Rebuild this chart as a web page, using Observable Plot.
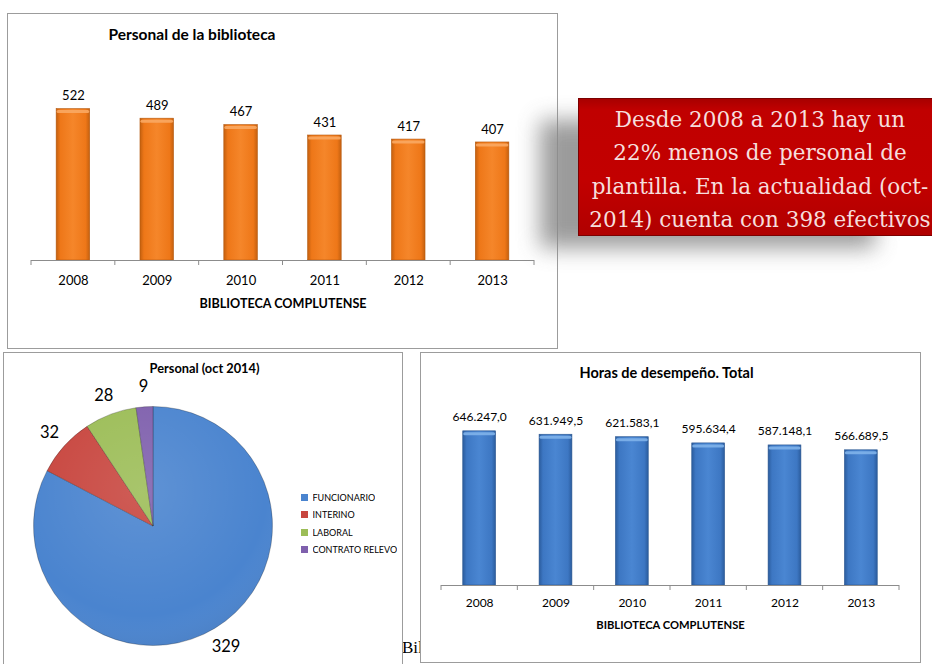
<!DOCTYPE html>
<html><head><meta charset="utf-8">
<script src="https://cdn.jsdelivr.net/npm/d3@7"></script>
<script src="https://cdn.jsdelivr.net/npm/@observablehq/plot@0.6"></script>
<style>
html,body{margin:0;padding:0;background:#fff;overflow:hidden;}
#page{position:relative;width:932px;height:664px;overflow:hidden;font-family:Lato,sans-serif;background:#fff;}
.panel{position:absolute;border:1px solid #9c9c9c;background:#fff;box-sizing:border-box;}
.holder{position:absolute;}
#shadow{position:absolute;left:540px;top:120px;width:335px;height:128px;background:#8a8a8a;filter:blur(11px);opacity:.85;}
#note{position:absolute;left:578px;top:98px;width:364px;height:138px;box-sizing:border-box;
  background:linear-gradient(#a80000,#c00000 8%,#c20000 60%,#b00000);border:1px solid #7a0000;
  color:#f6dedd;font-family:"DejaVu Serif",serif;font-size:21.5px;line-height:33.3px;text-align:center;padding-top:4px;white-space:nowrap;}
#bil{position:absolute;left:402px;top:638px;font-family:"Liberation Serif",serif;font-size:17px;color:#000;}
#legend .pl-swatch{padding-bottom:0 !important;height:17.3px;}
</style></head><body><div id="page">
  <div class="panel" style="left:7px;top:13px;width:551px;height:336px;"></div>
  <div class="holder" id="topChart" style="left:8px;top:14px;"></div>
  <div id="shadow"></div>
  <div id="note">Desde 2008 a 2013 hay un<br>22% menos de personal de<br>plantilla. En la actualidad (oct-<br>2014) cuenta con 398 efectivos</div>
  <div id="bil">Bil</div>
  <div class="panel" style="left:3px;top:352px;width:400px;height:320px;"></div>
  <div class="holder" id="pieChart" style="left:4px;top:353px;"></div>
  <div class="holder" id="legend" style="left:301px;top:489px;"></div>
  <div class="panel" style="left:420px;top:352px;width:501px;height:311px;"></div>
  <div class="holder" id="hoursChart" style="left:421px;top:353px;"></div>
</div>
<script>
// ---- data ----
const years = ["2008","2009","2010","2011","2012","2013"];
const staff = [522, 489, 467, 431, 417, 407];
const hours = [646247.0, 631949.5, 621583.1, 595634.4, 587148.1, 566689.5];
const pieCategories = ["FUNCIONARIO","INTERINO","LABORAL","CONTRATO RELEVO"];
const pieValues = [329, 32, 28, 9];
const pieColors = ["#4a84cf","#c8463f","#9cbd57","#7f60ad"];
const xAxisLabel = "BIBLIOTECA COMPLUTENSE";

const esFormat = d3.formatLocale({decimal: ",", thousands: ".", grouping: [3], currency: ["", "€"]}).format(",.1f");
const staffData = years.map((y, i) => ({year: y, value: staff[i]}));
const hoursData = years.map((y, i) => ({year: y, value: hours[i]}));
const pieData = pieCategories.map((c, i) => ({category: c, value: pieValues[i]}));

const FONT = "Lato, sans-serif";

function gradientDefs(id, stops) {
  return () => {
    const defs = d3.create("svg:defs");
    const g = defs.append("linearGradient").attr("id", id).attr("x1", 0).attr("x2", 1).attr("y1", 0).attr("y2", 0);
    stops.forEach(([o, c]) => g.append("stop").attr("offset", o).attr("stop-color", c));
    return defs.node();
  };
}

function bandBoundaryTicks(len, color) {
  return (index, scales) => {
    const x = scales.x, y = scales.y;
    const step = x.step(), bw = x.bandwidth();
    const y0 = y(0);
    const dom = x.domain();
    const xs = dom.map(d => x(d) - (step - bw) / 2);
    xs.push(x(dom[dom.length - 1]) + bw + (step - bw) / 2);
    const g = d3.create("svg:g").attr("stroke", color).attr("stroke-width", 1);
    xs.forEach(v => g.append("line").attr("x1", v).attr("x2", v).attr("y1", y0).attr("y2", y0 + len));
    return g.node();
  };
}

function barChart({data, width, height, margins, yMax, pad, gradId, stops, stroke, bevel, labelFmt, labelDy, fontSize, title, titleDx, titleDy, titleSize, tickDy, axisDy, axisSize}) {
  return Plot.plot({
    width, height,
    marginLeft: margins[0], marginRight: margins[1], marginTop: margins[2], marginBottom: margins[3],
    style: {fontFamily: FONT, fontSize: fontSize + "px", color: "#000", background: "transparent", overflow: "visible"},
    x: {domain: years, paddingInner: pad, paddingOuter: pad / 2, round: false, axis: null},
    y: {domain: [0, yMax], axis: null},
    marks: [
      gradientDefs(gradId, stops),
      Plot.barY(data, {x: "year", y: "value", fill: `url(#${gradId})`, stroke, strokeWidth: 0.6}),
      Plot.tickY(data, {x: "year", y: "value", dy: 2.5, inset: 2, stroke: bevel, strokeWidth: 3, strokeLinecap: "round", strokeOpacity: 0.9}),
      Plot.ruleY([0], {stroke: "#8c8c8c"}),
      bandBoundaryTicks(5, "#8c8c8c"),
      Plot.text(data, {x: "year", y: "value", text: d => labelFmt(d.value), dy: labelDy, fontSize, fill: "#000"}),
      Plot.text(data, {x: "year", text: "year", frameAnchor: "bottom", lineAnchor: "middle", dy: tickDy, fontSize, fill: "#000"}),
      Plot.text([xAxisLabel], {frameAnchor: "bottom", lineAnchor: "middle", dy: axisDy, fontWeight: "bold", fontSize: axisSize, fill: "#000"}),
      Plot.text([title], {frameAnchor: "top", lineAnchor: "middle", dx: titleDx, dy: titleDy, fontWeight: "bold", fontSize: titleSize, fill: "#000"})
    ]
  });
}

// ---- top chart: Personal de la biblioteca ----
document.getElementById("topChart").appendChild(barChart({
  data: staffData, width: 549, height: 333, margins: [23, 23, 72, 87], yMax: 600, pad: 0.6,
  gradId: "gOrange",
  stops: [[0, "#c4600f"], [0.12, "#ee7718"], [0.5, "#f5862a"], [0.88, "#ee7718"], [1, "#c4600f"]],
  stroke: "#b4580e", bevel: "#f9a863", labelFmt: d => String(d), labelDy: -13, fontSize: 13,
  title: "Personal de la biblioteca", titleDx: -91, titleDy: -51, titleSize: 15.5,
  tickDy: 20, axisDy: 43, axisSize: 12.6
}));

// ---- bottom right chart: Horas de desempeño ----
document.getElementById("hoursChart").appendChild(barChart({
  data: hoursData, width: 498, height: 308, margins: [20, 20, 65, 76], yMax: 700000, pad: 0.57,
  gradId: "gBlue",
  stops: [[0, "#2b5c9d"], [0.12, "#3d77c3"], [0.5, "#4a86d2"], [0.88, "#3d77c3"], [1, "#2b5c9d"]],
  stroke: "#2a568f", bevel: "#80b2ea", labelFmt: esFormat, labelDy: -14, fontSize: 12,
  title: "Horas de desempeño. Total", titleDx: -4, titleDy: -45, titleSize: 14.5,
  tickDy: 18, axisDy: 40, axisSize: 11.2
}));

// ---- pie chart: Personal (oct 2014) ----
const pieColor = Plot.scale({color: {type: "ordinal", domain: pieCategories, range: pieColors}});
const arcs = d3.pie().sort(null).value(d => d.value)(pieData);
const PIE_CX = 149, PIE_CY = 173, PIE_R = 119.5, LABEL_R = 140;
const labelArc = d3.arc().innerRadius(LABEL_R).outerRadius(LABEL_R);
const pieLabels = arcs.map(a => {
  const [lx, ly] = labelArc.centroid(a);
  return {text: String(a.data.value), x: PIE_CX + lx, y: PIE_CY + ly};
});

function pieMark() {
  return () => {
    const g = d3.create("svg:g").attr("transform", `translate(${PIE_CX},${PIE_CY})`);
    const defs = g.append("defs");
    const rg = defs.append("radialGradient").attr("id", "pieShade").attr("cx", 0.45).attr("cy", 0.35).attr("r", 0.75);
    rg.append("stop").attr("offset", 0).attr("stop-color", "#fff").attr("stop-opacity", 0.12);
    rg.append("stop").attr("offset", 0.7).attr("stop-color", "#fff").attr("stop-opacity", 0);
    rg.append("stop").attr("offset", 1).attr("stop-color", "#000").attr("stop-opacity", 0.12);
    const arc = d3.arc().innerRadius(0).outerRadius(PIE_R);
    g.selectAll("path.slice").data(arcs).join("path").attr("class", "slice")
      .attr("d", arc).attr("fill", d => pieColor.apply(d.data.category))
      .attr("stroke", "rgba(0,0,0,0.35)").attr("stroke-width", 0.7);
    g.append("circle").attr("r", PIE_R).attr("fill", "url(#pieShade)");
    return g.node();
  };
}

document.getElementById("pieChart").appendChild(Plot.plot({
  width: 398, height: 311, margin: 0,
  style: {fontFamily: FONT, fontSize: "16px", color: "#000", background: "transparent", overflow: "visible"},
  x: {type: "identity", axis: null}, y: {type: "identity", axis: null},
  marks: [
    pieMark(),
    Plot.text(pieLabels, {x: "x", y: "y", text: "text", fontSize: 16.5, fill: "#000"}),
    Plot.text(["Personal (oct 2014)"], {frameAnchor: "top-left", dx: 200, dy: 15, textAnchor: "middle", lineAnchor: "middle", fontWeight: "bold", fontSize: 12.8, fill: "#000"})
  ]
}));

document.getElementById("legend").appendChild(Plot.legend({
  color: {type: "ordinal", domain: pieCategories, range: pieColors},
  legend: "swatches", columns: 1, swatchSize: 7, className: "pl",
  style: {fontFamily: FONT, fontSize: "9px", color: "#000", margin: 0}
}));
</script>
</body></html>
